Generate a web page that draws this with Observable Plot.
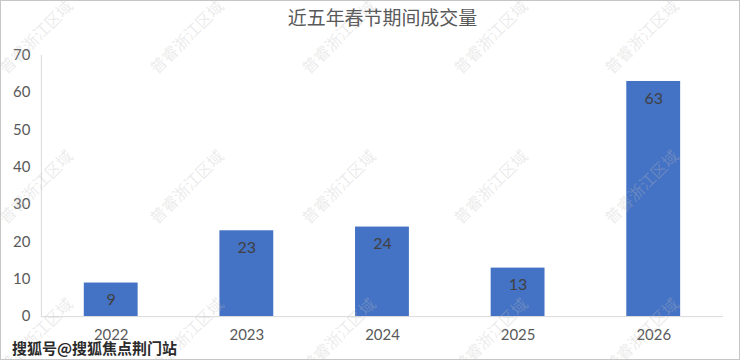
<!DOCTYPE html>
<html><head><meta charset="utf-8">
<script src="https://cdn.jsdelivr.net/npm/d3@7"></script>
<script src="https://cdn.jsdelivr.net/npm/@observablehq/plot@0.6"></script>
<style>
html,body{margin:0;padding:0;background:#fff;}
#wrap{position:relative;width:740px;height:360px;box-sizing:border-box;border:1px solid #c6c6c6;overflow:hidden;background:#fff;}
#wrap svg.chart{position:absolute;left:-1px;top:-1px;}
#wm{position:absolute;left:-1px;top:-1px;pointer-events:none;}
#cap{position:absolute;left:11px;top:336px;font-family:"Noto Sans CJK SC",sans-serif;font-size:15px;font-weight:bold;color:#2b2b2b;
 text-shadow:1px 0 0 #fff,-1px 0 0 #fff,0 1px 0 #fff,0 -1px 0 #fff,1px 1px 0 #fff,-1px -1px 0 #fff,1px -1px 0 #fff,-1px 1px 0 #fff;letter-spacing:0px;}
</style></head>
<body>
<div id="wrap"></div>
<script>
const title = "近五年春节期间成交量";
const years = ["2022","2023","2024","2025","2026"];
const values = [9, 23, 24, 13, 63];
const yTicks = [0,10,20,30,40,50,60,70];
const watermark = "普睿浙江区域";
const caption = "搜狐号@搜狐焦点荆门站";

const data = years.map((y,i)=>({year:y, value:values[i]}));
const numFont = "Lato, 'Open Sans', sans-serif";

const chart = Plot.plot({
  width: 740, height: 360,
  marginLeft: 41, marginRight: 15, marginTop: 55, marginBottom: 43,
  style: {fontFamily: numFont, fontSize: "15px", color: "#595959", background: "transparent"},
  x: {domain: years, paddingInner: 0.6, paddingOuter: 0.3, label: null, tickSize: 0, tickPadding: 13},
  y: {domain: [0,70], ticks: yTicks, label: null, tickSize: 0, tickPadding: 11},
  marks: [
    Plot.frame({anchor: "left", stroke: "#d9d9d9"}),
    Plot.barY(data, {x: "year", y: "value", fill: "#4472C4"}),
    Plot.ruleY([0], {stroke: "#d9d9d9"}),
    Plot.text(data, {x: "year", y: "value", text: d => String(d.value), dy: 17, fill: "#404040", fontSize: 16, fontFamily: numFont}),
    Plot.text([title], {frameAnchor: "top", dy: -44, text: d => d, fill: "#595959", fontSize: 19, fontFamily: "'Noto Sans CJK SC', sans-serif"})
  ]
});
chart.classList.add("chart");
const wrap = document.getElementById("wrap");

// watermark layer
const ns = "http://www.w3.org/2000/svg";
const wm = document.createElementNS(ns, "svg");
wm.setAttribute("id","wm"); wm.setAttribute("width",740); wm.setAttribute("height",360);
const cols = [37, 188, 340, 492, 643, 795];
const rows = [38, 188, 336];
for (const cy of rows) for (const cx of cols) {
  const t = document.createElementNS(ns, "text");
  t.setAttribute("x", cx); t.setAttribute("y", cy);
  t.setAttribute("transform", `rotate(-45 ${cx} ${cy})`);
  t.setAttribute("text-anchor","middle"); t.setAttribute("dominant-baseline","middle");
  t.setAttribute("font-family","'Noto Sans CJK SC', sans-serif");
  t.setAttribute("font-size","16"); t.setAttribute("fill","#bdbdbd"); t.setAttribute("fill-opacity","0.3");
  t.textContent = watermark;
  wm.appendChild(t);
}
wrap.appendChild(chart);
wrap.appendChild(wm);
const cap = document.createElement("div");
cap.id = "cap"; cap.textContent = caption;
wrap.appendChild(cap);
</script>
</body></html>
